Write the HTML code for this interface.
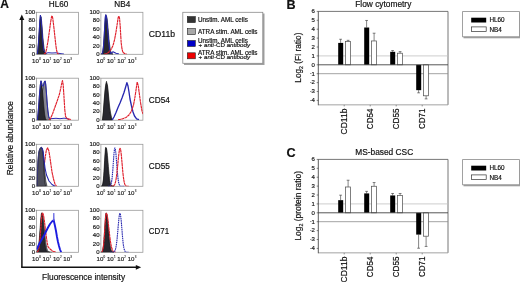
<!DOCTYPE html>
<html><head><meta charset="utf-8"><style>
html,body{margin:0;padding:0;background:#fff;}
body{width:520px;height:282px;overflow:hidden;}
svg{display:block;will-change:transform;font-family:"Liberation Sans", sans-serif;}
text{stroke:#111;stroke-width:0.18px;}
</style></head><body>
<div class="wrap"><svg width="520" height="282" viewBox="0 0 520 282" fill="#111">
<defs><clipPath id="c36_12"><rect x="36.5" y="12.3" width="42.0" height="42.0"/></clipPath><clipPath id="c100_12"><rect x="100.9" y="12.3" width="42.0" height="42.0"/></clipPath><clipPath id="c36_78"><rect x="36.5" y="78.2" width="42.0" height="42.0"/></clipPath><clipPath id="c100_78"><rect x="100.9" y="78.2" width="42.0" height="42.0"/></clipPath><clipPath id="c36_144"><rect x="36.5" y="144.3" width="42.0" height="42.0"/></clipPath><clipPath id="c100_144"><rect x="100.9" y="144.3" width="42.0" height="42.0"/></clipPath><clipPath id="c36_210"><rect x="36.5" y="210.3" width="42.0" height="42.0"/></clipPath><clipPath id="c100_210"><rect x="100.9" y="210.3" width="42.0" height="42.0"/></clipPath></defs>
<rect width="520" height="282" fill="#fff"/>
<rect x="36.5" y="12.3" width="42.0" height="42.0" fill="none" stroke="#9a9a9a" stroke-width="0.8"/>
<text x="35.1" y="13.90" font-size="6" text-anchor="end" fill="#222" stroke-width="0.1">100</text>
<line x1="35.3" y1="12.30" x2="36.5" y2="12.30" stroke="#888" stroke-width="0.5"/>
<text x="35.1" y="22.30" font-size="6" text-anchor="end" fill="#222" stroke-width="0.1">80</text>
<line x1="35.3" y1="20.70" x2="36.5" y2="20.70" stroke="#888" stroke-width="0.5"/>
<text x="35.1" y="30.70" font-size="6" text-anchor="end" fill="#222" stroke-width="0.1">60</text>
<line x1="35.3" y1="29.10" x2="36.5" y2="29.10" stroke="#888" stroke-width="0.5"/>
<text x="35.1" y="39.10" font-size="6" text-anchor="end" fill="#222" stroke-width="0.1">40</text>
<line x1="35.3" y1="37.50" x2="36.5" y2="37.50" stroke="#888" stroke-width="0.5"/>
<text x="35.1" y="47.50" font-size="6" text-anchor="end" fill="#222" stroke-width="0.1">20</text>
<line x1="35.3" y1="45.90" x2="36.5" y2="45.90" stroke="#888" stroke-width="0.5"/>
<text x="35.1" y="55.90" font-size="6" text-anchor="end" fill="#222" stroke-width="0.1">0</text>
<line x1="35.3" y1="54.30" x2="36.5" y2="54.30" stroke="#888" stroke-width="0.5"/>
<text x="32.10" y="62.70" font-size="6.1" fill="#2a2a2a" stroke-width="0.06">10<tspan font-size="3.0" dx="0.25" dy="-2.6" stroke-width="0.1">0</tspan></text>
<text x="42.50" y="62.70" font-size="6.1" fill="#2a2a2a" stroke-width="0.06">10<tspan font-size="3.0" dx="0.25" dy="-2.6" stroke-width="0.1">1</tspan></text>
<text x="52.90" y="62.70" font-size="6.1" fill="#2a2a2a" stroke-width="0.06">10<tspan font-size="3.0" dx="0.25" dy="-2.6" stroke-width="0.1">2</tspan></text>
<text x="63.30" y="62.70" font-size="6.1" fill="#2a2a2a" stroke-width="0.06">10<tspan font-size="3.0" dx="0.25" dy="-2.6" stroke-width="0.1">3</tspan></text>
<rect x="100.9" y="12.3" width="42.0" height="42.0" fill="none" stroke="#9a9a9a" stroke-width="0.8"/>
<text x="99.5" y="13.90" font-size="6" text-anchor="end" fill="#222" stroke-width="0.1">100</text>
<line x1="99.7" y1="12.30" x2="100.9" y2="12.30" stroke="#888" stroke-width="0.5"/>
<text x="99.5" y="22.30" font-size="6" text-anchor="end" fill="#222" stroke-width="0.1">80</text>
<line x1="99.7" y1="20.70" x2="100.9" y2="20.70" stroke="#888" stroke-width="0.5"/>
<text x="99.5" y="30.70" font-size="6" text-anchor="end" fill="#222" stroke-width="0.1">60</text>
<line x1="99.7" y1="29.10" x2="100.9" y2="29.10" stroke="#888" stroke-width="0.5"/>
<text x="99.5" y="39.10" font-size="6" text-anchor="end" fill="#222" stroke-width="0.1">40</text>
<line x1="99.7" y1="37.50" x2="100.9" y2="37.50" stroke="#888" stroke-width="0.5"/>
<text x="99.5" y="47.50" font-size="6" text-anchor="end" fill="#222" stroke-width="0.1">20</text>
<line x1="99.7" y1="45.90" x2="100.9" y2="45.90" stroke="#888" stroke-width="0.5"/>
<text x="99.5" y="55.90" font-size="6" text-anchor="end" fill="#222" stroke-width="0.1">0</text>
<line x1="99.7" y1="54.30" x2="100.9" y2="54.30" stroke="#888" stroke-width="0.5"/>
<text x="96.50" y="62.70" font-size="6.1" fill="#2a2a2a" stroke-width="0.06">10<tspan font-size="3.0" dx="0.25" dy="-2.6" stroke-width="0.1">0</tspan></text>
<text x="106.90" y="62.70" font-size="6.1" fill="#2a2a2a" stroke-width="0.06">10<tspan font-size="3.0" dx="0.25" dy="-2.6" stroke-width="0.1">1</tspan></text>
<text x="117.30" y="62.70" font-size="6.1" fill="#2a2a2a" stroke-width="0.06">10<tspan font-size="3.0" dx="0.25" dy="-2.6" stroke-width="0.1">2</tspan></text>
<text x="127.70" y="62.70" font-size="6.1" fill="#2a2a2a" stroke-width="0.06">10<tspan font-size="3.0" dx="0.25" dy="-2.6" stroke-width="0.1">3</tspan></text>
<rect x="36.5" y="78.2" width="42.0" height="42.0" fill="none" stroke="#9a9a9a" stroke-width="0.8"/>
<text x="35.1" y="79.80" font-size="6" text-anchor="end" fill="#222" stroke-width="0.1">100</text>
<line x1="35.3" y1="78.20" x2="36.5" y2="78.20" stroke="#888" stroke-width="0.5"/>
<text x="35.1" y="88.20" font-size="6" text-anchor="end" fill="#222" stroke-width="0.1">80</text>
<line x1="35.3" y1="86.60" x2="36.5" y2="86.60" stroke="#888" stroke-width="0.5"/>
<text x="35.1" y="96.60" font-size="6" text-anchor="end" fill="#222" stroke-width="0.1">60</text>
<line x1="35.3" y1="95.00" x2="36.5" y2="95.00" stroke="#888" stroke-width="0.5"/>
<text x="35.1" y="105.00" font-size="6" text-anchor="end" fill="#222" stroke-width="0.1">40</text>
<line x1="35.3" y1="103.40" x2="36.5" y2="103.40" stroke="#888" stroke-width="0.5"/>
<text x="35.1" y="113.40" font-size="6" text-anchor="end" fill="#222" stroke-width="0.1">20</text>
<line x1="35.3" y1="111.80" x2="36.5" y2="111.80" stroke="#888" stroke-width="0.5"/>
<text x="35.1" y="121.80" font-size="6" text-anchor="end" fill="#222" stroke-width="0.1">0</text>
<line x1="35.3" y1="120.20" x2="36.5" y2="120.20" stroke="#888" stroke-width="0.5"/>
<text x="32.10" y="128.60" font-size="6.1" fill="#2a2a2a" stroke-width="0.06">10<tspan font-size="3.0" dx="0.25" dy="-2.6" stroke-width="0.1">0</tspan></text>
<text x="42.50" y="128.60" font-size="6.1" fill="#2a2a2a" stroke-width="0.06">10<tspan font-size="3.0" dx="0.25" dy="-2.6" stroke-width="0.1">1</tspan></text>
<text x="52.90" y="128.60" font-size="6.1" fill="#2a2a2a" stroke-width="0.06">10<tspan font-size="3.0" dx="0.25" dy="-2.6" stroke-width="0.1">2</tspan></text>
<text x="63.30" y="128.60" font-size="6.1" fill="#2a2a2a" stroke-width="0.06">10<tspan font-size="3.0" dx="0.25" dy="-2.6" stroke-width="0.1">3</tspan></text>
<rect x="100.9" y="78.2" width="42.0" height="42.0" fill="none" stroke="#9a9a9a" stroke-width="0.8"/>
<text x="99.5" y="79.80" font-size="6" text-anchor="end" fill="#222" stroke-width="0.1">100</text>
<line x1="99.7" y1="78.20" x2="100.9" y2="78.20" stroke="#888" stroke-width="0.5"/>
<text x="99.5" y="88.20" font-size="6" text-anchor="end" fill="#222" stroke-width="0.1">80</text>
<line x1="99.7" y1="86.60" x2="100.9" y2="86.60" stroke="#888" stroke-width="0.5"/>
<text x="99.5" y="96.60" font-size="6" text-anchor="end" fill="#222" stroke-width="0.1">60</text>
<line x1="99.7" y1="95.00" x2="100.9" y2="95.00" stroke="#888" stroke-width="0.5"/>
<text x="99.5" y="105.00" font-size="6" text-anchor="end" fill="#222" stroke-width="0.1">40</text>
<line x1="99.7" y1="103.40" x2="100.9" y2="103.40" stroke="#888" stroke-width="0.5"/>
<text x="99.5" y="113.40" font-size="6" text-anchor="end" fill="#222" stroke-width="0.1">20</text>
<line x1="99.7" y1="111.80" x2="100.9" y2="111.80" stroke="#888" stroke-width="0.5"/>
<text x="99.5" y="121.80" font-size="6" text-anchor="end" fill="#222" stroke-width="0.1">0</text>
<line x1="99.7" y1="120.20" x2="100.9" y2="120.20" stroke="#888" stroke-width="0.5"/>
<text x="96.50" y="128.60" font-size="6.1" fill="#2a2a2a" stroke-width="0.06">10<tspan font-size="3.0" dx="0.25" dy="-2.6" stroke-width="0.1">0</tspan></text>
<text x="106.90" y="128.60" font-size="6.1" fill="#2a2a2a" stroke-width="0.06">10<tspan font-size="3.0" dx="0.25" dy="-2.6" stroke-width="0.1">1</tspan></text>
<text x="117.30" y="128.60" font-size="6.1" fill="#2a2a2a" stroke-width="0.06">10<tspan font-size="3.0" dx="0.25" dy="-2.6" stroke-width="0.1">2</tspan></text>
<text x="127.70" y="128.60" font-size="6.1" fill="#2a2a2a" stroke-width="0.06">10<tspan font-size="3.0" dx="0.25" dy="-2.6" stroke-width="0.1">3</tspan></text>
<rect x="36.5" y="144.3" width="42.0" height="42.0" fill="none" stroke="#9a9a9a" stroke-width="0.8"/>
<text x="35.1" y="145.90" font-size="6" text-anchor="end" fill="#222" stroke-width="0.1">100</text>
<line x1="35.3" y1="144.30" x2="36.5" y2="144.30" stroke="#888" stroke-width="0.5"/>
<text x="35.1" y="154.30" font-size="6" text-anchor="end" fill="#222" stroke-width="0.1">80</text>
<line x1="35.3" y1="152.70" x2="36.5" y2="152.70" stroke="#888" stroke-width="0.5"/>
<text x="35.1" y="162.70" font-size="6" text-anchor="end" fill="#222" stroke-width="0.1">60</text>
<line x1="35.3" y1="161.10" x2="36.5" y2="161.10" stroke="#888" stroke-width="0.5"/>
<text x="35.1" y="171.10" font-size="6" text-anchor="end" fill="#222" stroke-width="0.1">40</text>
<line x1="35.3" y1="169.50" x2="36.5" y2="169.50" stroke="#888" stroke-width="0.5"/>
<text x="35.1" y="179.50" font-size="6" text-anchor="end" fill="#222" stroke-width="0.1">20</text>
<line x1="35.3" y1="177.90" x2="36.5" y2="177.90" stroke="#888" stroke-width="0.5"/>
<text x="35.1" y="187.90" font-size="6" text-anchor="end" fill="#222" stroke-width="0.1">0</text>
<line x1="35.3" y1="186.30" x2="36.5" y2="186.30" stroke="#888" stroke-width="0.5"/>
<text x="32.10" y="194.70" font-size="6.1" fill="#2a2a2a" stroke-width="0.06">10<tspan font-size="3.0" dx="0.25" dy="-2.6" stroke-width="0.1">0</tspan></text>
<text x="42.50" y="194.70" font-size="6.1" fill="#2a2a2a" stroke-width="0.06">10<tspan font-size="3.0" dx="0.25" dy="-2.6" stroke-width="0.1">1</tspan></text>
<text x="52.90" y="194.70" font-size="6.1" fill="#2a2a2a" stroke-width="0.06">10<tspan font-size="3.0" dx="0.25" dy="-2.6" stroke-width="0.1">2</tspan></text>
<text x="63.30" y="194.70" font-size="6.1" fill="#2a2a2a" stroke-width="0.06">10<tspan font-size="3.0" dx="0.25" dy="-2.6" stroke-width="0.1">3</tspan></text>
<rect x="100.9" y="144.3" width="42.0" height="42.0" fill="none" stroke="#9a9a9a" stroke-width="0.8"/>
<text x="99.5" y="145.90" font-size="6" text-anchor="end" fill="#222" stroke-width="0.1">100</text>
<line x1="99.7" y1="144.30" x2="100.9" y2="144.30" stroke="#888" stroke-width="0.5"/>
<text x="99.5" y="154.30" font-size="6" text-anchor="end" fill="#222" stroke-width="0.1">80</text>
<line x1="99.7" y1="152.70" x2="100.9" y2="152.70" stroke="#888" stroke-width="0.5"/>
<text x="99.5" y="162.70" font-size="6" text-anchor="end" fill="#222" stroke-width="0.1">60</text>
<line x1="99.7" y1="161.10" x2="100.9" y2="161.10" stroke="#888" stroke-width="0.5"/>
<text x="99.5" y="171.10" font-size="6" text-anchor="end" fill="#222" stroke-width="0.1">40</text>
<line x1="99.7" y1="169.50" x2="100.9" y2="169.50" stroke="#888" stroke-width="0.5"/>
<text x="99.5" y="179.50" font-size="6" text-anchor="end" fill="#222" stroke-width="0.1">20</text>
<line x1="99.7" y1="177.90" x2="100.9" y2="177.90" stroke="#888" stroke-width="0.5"/>
<text x="99.5" y="187.90" font-size="6" text-anchor="end" fill="#222" stroke-width="0.1">0</text>
<line x1="99.7" y1="186.30" x2="100.9" y2="186.30" stroke="#888" stroke-width="0.5"/>
<text x="96.50" y="194.70" font-size="6.1" fill="#2a2a2a" stroke-width="0.06">10<tspan font-size="3.0" dx="0.25" dy="-2.6" stroke-width="0.1">0</tspan></text>
<text x="106.90" y="194.70" font-size="6.1" fill="#2a2a2a" stroke-width="0.06">10<tspan font-size="3.0" dx="0.25" dy="-2.6" stroke-width="0.1">1</tspan></text>
<text x="117.30" y="194.70" font-size="6.1" fill="#2a2a2a" stroke-width="0.06">10<tspan font-size="3.0" dx="0.25" dy="-2.6" stroke-width="0.1">2</tspan></text>
<text x="127.70" y="194.70" font-size="6.1" fill="#2a2a2a" stroke-width="0.06">10<tspan font-size="3.0" dx="0.25" dy="-2.6" stroke-width="0.1">3</tspan></text>
<rect x="36.5" y="210.3" width="42.0" height="42.0" fill="none" stroke="#9a9a9a" stroke-width="0.8"/>
<text x="35.1" y="211.90" font-size="6" text-anchor="end" fill="#222" stroke-width="0.1">100</text>
<line x1="35.3" y1="210.30" x2="36.5" y2="210.30" stroke="#888" stroke-width="0.5"/>
<text x="35.1" y="220.30" font-size="6" text-anchor="end" fill="#222" stroke-width="0.1">80</text>
<line x1="35.3" y1="218.70" x2="36.5" y2="218.70" stroke="#888" stroke-width="0.5"/>
<text x="35.1" y="228.70" font-size="6" text-anchor="end" fill="#222" stroke-width="0.1">60</text>
<line x1="35.3" y1="227.10" x2="36.5" y2="227.10" stroke="#888" stroke-width="0.5"/>
<text x="35.1" y="237.10" font-size="6" text-anchor="end" fill="#222" stroke-width="0.1">40</text>
<line x1="35.3" y1="235.50" x2="36.5" y2="235.50" stroke="#888" stroke-width="0.5"/>
<text x="35.1" y="245.50" font-size="6" text-anchor="end" fill="#222" stroke-width="0.1">20</text>
<line x1="35.3" y1="243.90" x2="36.5" y2="243.90" stroke="#888" stroke-width="0.5"/>
<text x="35.1" y="253.90" font-size="6" text-anchor="end" fill="#222" stroke-width="0.1">0</text>
<line x1="35.3" y1="252.30" x2="36.5" y2="252.30" stroke="#888" stroke-width="0.5"/>
<text x="32.10" y="260.70" font-size="6.1" fill="#2a2a2a" stroke-width="0.06">10<tspan font-size="3.0" dx="0.25" dy="-2.6" stroke-width="0.1">0</tspan></text>
<text x="42.50" y="260.70" font-size="6.1" fill="#2a2a2a" stroke-width="0.06">10<tspan font-size="3.0" dx="0.25" dy="-2.6" stroke-width="0.1">1</tspan></text>
<text x="52.90" y="260.70" font-size="6.1" fill="#2a2a2a" stroke-width="0.06">10<tspan font-size="3.0" dx="0.25" dy="-2.6" stroke-width="0.1">2</tspan></text>
<text x="63.30" y="260.70" font-size="6.1" fill="#2a2a2a" stroke-width="0.06">10<tspan font-size="3.0" dx="0.25" dy="-2.6" stroke-width="0.1">3</tspan></text>
<rect x="100.9" y="210.3" width="42.0" height="42.0" fill="none" stroke="#9a9a9a" stroke-width="0.8"/>
<text x="99.5" y="211.90" font-size="6" text-anchor="end" fill="#222" stroke-width="0.1">100</text>
<line x1="99.7" y1="210.30" x2="100.9" y2="210.30" stroke="#888" stroke-width="0.5"/>
<text x="99.5" y="220.30" font-size="6" text-anchor="end" fill="#222" stroke-width="0.1">80</text>
<line x1="99.7" y1="218.70" x2="100.9" y2="218.70" stroke="#888" stroke-width="0.5"/>
<text x="99.5" y="228.70" font-size="6" text-anchor="end" fill="#222" stroke-width="0.1">60</text>
<line x1="99.7" y1="227.10" x2="100.9" y2="227.10" stroke="#888" stroke-width="0.5"/>
<text x="99.5" y="237.10" font-size="6" text-anchor="end" fill="#222" stroke-width="0.1">40</text>
<line x1="99.7" y1="235.50" x2="100.9" y2="235.50" stroke="#888" stroke-width="0.5"/>
<text x="99.5" y="245.50" font-size="6" text-anchor="end" fill="#222" stroke-width="0.1">20</text>
<line x1="99.7" y1="243.90" x2="100.9" y2="243.90" stroke="#888" stroke-width="0.5"/>
<text x="99.5" y="253.90" font-size="6" text-anchor="end" fill="#222" stroke-width="0.1">0</text>
<line x1="99.7" y1="252.30" x2="100.9" y2="252.30" stroke="#888" stroke-width="0.5"/>
<text x="96.50" y="260.70" font-size="6.1" fill="#2a2a2a" stroke-width="0.06">10<tspan font-size="3.0" dx="0.25" dy="-2.6" stroke-width="0.1">0</tspan></text>
<text x="106.90" y="260.70" font-size="6.1" fill="#2a2a2a" stroke-width="0.06">10<tspan font-size="3.0" dx="0.25" dy="-2.6" stroke-width="0.1">1</tspan></text>
<text x="117.30" y="260.70" font-size="6.1" fill="#2a2a2a" stroke-width="0.06">10<tspan font-size="3.0" dx="0.25" dy="-2.6" stroke-width="0.1">2</tspan></text>
<text x="127.70" y="260.70" font-size="6.1" fill="#2a2a2a" stroke-width="0.06">10<tspan font-size="3.0" dx="0.25" dy="-2.6" stroke-width="0.1">3</tspan></text>
<g clip-path="url(#c36_12)">
<path d="M37.20,54.30 L38.00,50.00 L38.90,40.00 L39.70,29.00 L40.40,19.00 L40.90,17.00 L41.60,21.00 L42.40,31.00 L43.20,41.00 L44.20,49.00 L45.30,53.00 L46.50,54.30 L46.50,54.30 L37.20,54.30 Z" fill="#858590" stroke="#111" stroke-width="0.6" fill-opacity="1"/>
<path d="M37.20,54.30 L37.90,50.00 L38.60,41.00 L39.30,30.00 L39.90,20.00 L40.40,15.20 L40.90,17.00 L41.50,24.00 L42.20,34.00 L43.00,44.00 L43.80,50.50 L44.80,53.60 L46.00,54.30 L46.00,54.30 L37.20,54.30 Z" fill="#28282f" stroke="#111" stroke-width="0.6" fill-opacity="1"/>
<path d="M37.20,54.30 L37.90,50.00 L38.60,41.00 L39.30,30.00 L39.90,20.00 L40.40,15.20 L40.90,17.00 L41.50,24.00 L42.20,34.00 L43.00,44.00 L43.80,50.50 L46.00,53.40 L48.00,52.70 L52.00,53.00 L56.00,52.80 L61.00,53.70 L64.00,54.10" fill="none" stroke="#2828b0" stroke-width="1.0" stroke-linejoin="round" opacity="1"/>
<path d="M44.00,54.30 L45.60,53.00 L46.80,48.00 L48.00,41.00 L49.30,32.00 L50.50,23.00 L51.40,17.50 L52.00,15.80 L52.70,18.00 L53.60,25.00 L54.60,34.00 L55.60,43.00 L56.50,50.00 L57.50,53.40 L59.00,54.30" fill="none" stroke="#e0202c" stroke-width="1.15" stroke-dasharray="3,0.35" stroke-linejoin="round" opacity="1"/>
</g>
<g clip-path="url(#c100_12)">
<path d="M101.50,54.07 L101.79,53.89 L102.08,53.57 L102.36,53.08 L102.65,52.32 L102.94,51.20 L103.22,49.62 L103.51,47.49 L103.80,44.75 L104.09,41.39 L104.38,37.49 L104.66,33.19 L104.95,28.75 L105.24,24.50 L105.53,20.79 L105.81,17.97 L106.10,16.34 L106.39,16.04 L106.67,16.67 L106.96,18.04 L107.25,20.09 L107.54,22.67 L107.83,25.66 L108.11,28.90 L108.40,32.23 L108.69,35.52 L108.97,38.64 L109.26,41.51 L109.55,44.07 L109.84,46.29 L110.12,48.15 L110.41,49.68 L110.70,50.89 L110.99,51.84 L111.28,52.56 L111.56,53.10 L111.85,53.49 L112.14,53.76 L112.42,53.95 L112.71,54.08 L113.00,54.16 L113.00,54.30 L101.50,54.30 Z" fill="#858590" stroke="#111" stroke-width="0.6" fill-opacity="1"/>
<path d="M101.50,54.13 L101.79,53.96 L102.08,53.65 L102.36,53.10 L102.65,52.20 L102.94,50.80 L103.22,48.75 L103.51,45.90 L103.80,42.20 L104.09,37.71 L104.38,32.64 L104.66,27.36 L104.95,22.40 L105.24,18.33 L105.53,15.67 L105.81,14.80 L106.10,15.29 L106.39,16.64 L106.67,18.77 L106.96,21.54 L107.25,24.78 L107.54,28.30 L107.83,31.92 L108.11,35.47 L108.40,38.81 L108.69,41.85 L108.97,44.52 L109.26,46.79 L109.55,48.67 L109.84,50.17 L110.12,51.34 L110.41,52.23 L110.70,52.88 L110.99,53.35 L111.28,53.68 L111.56,53.90 L111.85,54.05 L112.14,54.15 L112.42,54.21 L112.71,54.25 L113.00,54.27 L113.00,54.30 L101.50,54.30 Z" fill="#28282f" stroke="#111" stroke-width="0.6" fill-opacity="1"/>
<path d="M101.50,54.13 L101.74,54.00 L101.97,53.78 L102.21,53.42 L102.45,52.87 L102.69,52.05 L102.92,50.88 L103.16,49.26 L103.40,47.11 L103.64,44.40 L103.88,41.10 L104.11,37.29 L104.35,33.09 L104.59,28.73 L104.83,24.48 L105.06,20.67 L105.30,17.62 L105.54,15.60 L105.78,14.81 L106.01,15.05 L106.25,15.89 L106.49,17.30 L106.72,19.21 L106.96,21.54 L107.20,24.19 L107.44,27.05 L107.67,30.03 L107.91,33.01 L108.15,35.92 L108.39,38.67 L108.62,41.22 L108.86,43.52 L109.10,45.56 L109.34,47.32 L109.58,48.81 L109.81,50.05 L110.05,51.06 L110.29,51.87 L110.53,52.51 L110.76,53.00 L111.00,53.37 L113.00,51.80 L116.00,53.30 L119.00,54.00" fill="none" stroke="#2828b0" stroke-width="1.1" stroke-linejoin="round" opacity="1"/>
<path d="M104.00,54.30 L107.00,53.50 L109.00,52.00 L111.00,49.50 L113.00,45.50 L114.50,40.00 L116.00,32.00 L117.20,24.00 L118.20,17.50 L118.80,16.00 L119.50,18.00 L120.20,26.00 L120.70,35.00 L121.20,43.00 L122.00,49.00 L123.00,52.50 L125.00,53.80 L127.00,54.30" fill="none" stroke="#e0202c" stroke-width="1.15" stroke-dasharray="3,0.35" stroke-linejoin="round" opacity="1"/>
</g>
<g clip-path="url(#c36_78)">
<path d="M38.00,120.20 L39.50,112.00 L41.00,102.00 L42.20,93.00 L43.00,87.50 L43.80,83.50 L44.50,81.30 L45.10,80.90 L45.70,84.00 L46.30,91.00 L47.00,101.00 L47.80,110.00 L48.70,116.50 L49.80,119.50 L51.00,120.20 L51.00,120.20 L38.00,120.20 Z" fill="#858590" stroke="#111" stroke-width="0.6" fill-opacity="1"/>
<path d="M37.30,120.20 L38.00,114.00 L38.80,104.00 L39.60,93.00 L40.30,85.00 L41.00,80.80 L41.60,83.00 L42.30,89.00 L43.00,97.00 L43.80,106.00 L44.60,114.00 L45.50,119.00 L46.50,120.20 L46.50,120.20 L37.30,120.20 Z" fill="#28282f" stroke="#111" stroke-width="0.6" fill-opacity="1"/>
<path d="M37.30,120.20 L38.00,114.00 L38.80,104.00 L39.60,93.00 L40.30,85.00 L41.00,80.80 L41.70,83.00 L42.40,86.00 L43.00,86.40 L43.60,85.00 L44.30,82.00 L45.10,80.90 L45.70,84.00 L46.30,91.00 L47.00,101.00 L47.80,110.00 L48.70,116.50 L49.80,118.80 L52.00,118.60 L56.00,118.30 L60.00,118.70 L64.00,118.20 L67.00,118.50 L69.00,119.50" fill="none" stroke="#2828b0" stroke-width="1.0" stroke-linejoin="round" opacity="1"/>
<path d="M49.00,119.80 L50.50,118.50 L52.50,114.00 L55.00,107.00 L57.50,100.00 L59.50,94.00 L60.80,88.00 L61.80,83.00 L62.50,80.60 L63.20,85.00 L64.00,97.00 L64.80,110.00 L65.60,116.50 L67.00,118.60 L71.00,119.60" fill="none" stroke="#e0202c" stroke-width="1.15" stroke-dasharray="3,0.35" stroke-linejoin="round" opacity="1"/>
</g>
<g clip-path="url(#c100_78)">
<path d="M102.50,120.20 L103.50,112.00 L104.60,98.00 L105.60,88.00 L106.60,83.00 L107.60,86.00 L108.60,96.00 L109.60,106.00 L110.60,113.00 L111.60,117.50 L113.00,120.20 L113.00,120.20 L102.50,120.20 Z" fill="#858590" stroke="#111" stroke-width="0.6" fill-opacity="1"/>
<path d="M102.50,120.20 L103.30,112.00 L104.20,100.00 L105.00,90.00 L105.80,84.00 L106.50,81.30 L107.20,85.00 L108.00,93.00 L108.80,103.00 L109.70,111.00 L110.70,116.50 L112.00,120.20 L112.00,120.20 L102.50,120.20 Z" fill="#28282f" stroke="#111" stroke-width="0.6" fill-opacity="1"/>
<path d="M112.20,120.00 L114.00,117.00 L116.00,112.50 L118.00,107.50 L120.00,103.00 L122.00,98.00 L124.00,92.50 L125.50,87.50 L126.90,82.60 L128.00,86.00 L129.00,92.00 L130.00,99.00 L131.50,106.00 L133.00,112.00 L134.50,116.00 L136.60,118.80 L139.00,119.60" fill="none" stroke="#2828b0" stroke-width="1.35" stroke-linejoin="round" opacity="1"/>
<path d="M118.00,119.80 L122.00,119.00 L126.00,117.50 L129.00,115.00 L131.50,111.00 L133.50,105.00 L135.00,97.00 L136.30,88.00 L137.20,82.00 L138.30,86.00 L139.50,95.00 L140.60,103.00 L142.00,111.00 L143.00,114.00" fill="none" stroke="#e0202c" stroke-width="1.15" stroke-dasharray="3,0.35" stroke-linejoin="round" opacity="1"/>
</g>
<g clip-path="url(#c36_144)">
<path d="M41.00,186.30 L42.50,180.00 L43.50,172.00 L44.50,163.00 L45.40,156.00 L46.40,150.00 L47.70,147.90 L48.90,151.00 L50.00,158.00 L51.00,165.00 L52.00,172.00 L53.50,179.00 L55.00,184.00 L56.50,186.30" fill="none" stroke="#e0202c" stroke-width="1.15" stroke-dasharray="3,0.35" stroke-linejoin="round" opacity="1"/>
<path d="M37.00,186.30 L37.50,175.00 L38.20,162.00 L39.00,153.00 L40.00,149.50 L41.20,147.60 L42.30,148.50 L43.20,153.00 L44.00,162.00 L44.80,172.00 L45.80,181.00 L47.00,186.30 L47.00,186.30 L37.00,186.30 Z" fill="#858590" stroke="#111" stroke-width="0.6" fill-opacity="1"/>
<path d="M37.00,186.30 L37.40,172.00 L38.00,160.00 L38.80,152.00 L39.80,148.50 L41.30,147.30 L42.40,149.00 L43.10,155.00 L43.70,164.00 L44.20,174.00 L44.80,182.00 L45.60,186.30 L45.60,186.30 L37.00,186.30 Z" fill="#40404e" stroke="#111" stroke-width="0.6" fill-opacity="0.8"/>
<path d="M37.00,186.30 L37.40,172.00 L38.00,160.00 L38.80,152.00 L39.80,148.50 L41.30,147.30" fill="none" stroke="#3a3a90" stroke-width="0.8" stroke-linejoin="round" opacity="1"/>
<path d="M41.30,147.30 L42.40,148.50 L43.20,152.00 L44.00,160.00 L45.00,168.00 L46.50,175.00 L49.00,181.00 L52.00,184.50 L55.00,186.30" fill="none" stroke="#2828b0" stroke-width="1.1" stroke-linejoin="round" opacity="1"/>
</g>
<g clip-path="url(#c100_144)">
<path d="M101.50,186.16 L101.81,186.02 L102.12,185.75 L102.44,185.27 L102.75,184.46 L103.06,183.19 L103.38,181.30 L103.69,178.65 L104.00,175.16 L104.31,170.87 L104.62,165.96 L104.94,160.80 L105.25,155.88 L105.56,151.77 L105.88,149.02 L106.19,148.00 L106.50,148.47 L106.81,149.94 L107.12,152.28 L107.44,155.32 L107.75,158.84 L108.06,162.61 L108.38,166.41 L108.69,170.04 L109.00,173.37 L109.31,176.29 L109.62,178.76 L109.94,180.77 L110.25,182.35 L110.56,183.56 L110.88,184.44 L111.19,185.08 L111.50,185.52 L111.81,185.81 L112.12,186.00 L112.44,186.13 L112.75,186.20 L113.06,186.24 L113.38,186.27 L113.69,186.28 L114.00,186.29 L114.00,186.30 L101.50,186.30 Z" fill="#858590" stroke="#111" stroke-width="0.6" fill-opacity="1"/>
<path d="M101.50,186.13 L101.81,185.94 L102.12,185.58 L102.44,184.92 L102.75,183.80 L103.06,182.03 L103.38,179.42 L103.69,175.83 L104.00,171.27 L104.31,165.93 L104.62,160.25 L104.94,154.84 L105.25,150.46 L105.56,147.75 L105.88,147.13 L106.19,148.00 L106.50,149.95 L106.81,152.84 L107.12,156.40 L107.44,160.38 L107.75,164.50 L108.06,168.51 L108.38,172.21 L108.69,175.47 L109.00,178.23 L109.31,180.46 L109.62,182.20 L109.94,183.51 L110.25,184.45 L110.56,185.12 L110.88,185.56 L111.19,185.86 L111.50,186.04 L111.81,186.15 L112.12,186.22 L112.44,186.26 L112.75,186.28 L113.06,186.29 L113.38,186.29 L113.69,186.30 L114.00,186.30 L114.00,186.30 L101.50,186.30 Z" fill="#28282f" stroke="#111" stroke-width="0.6" fill-opacity="1"/>
<path d="M108.00,186.30 L108.40,186.29 L108.80,186.27 L109.20,186.23 L109.60,186.14 L110.00,185.95 L110.40,185.56 L110.80,184.86 L111.20,183.65 L111.60,181.72 L112.00,178.87 L112.40,174.97 L112.80,170.07 L113.20,164.46 L113.60,158.70 L114.00,153.52 L114.40,149.73 L114.80,147.97 L115.20,148.46 L115.60,150.85 L116.00,154.78 L116.40,159.71 L116.80,165.00 L117.20,170.11 L117.60,174.62 L118.00,178.30 L118.40,181.10 L118.80,183.09 L119.20,184.42 L119.60,185.26 L120.00,185.75 L120.40,186.02 L120.80,186.17 L121.20,186.24 L121.60,186.27 L122.00,186.29 L122.40,186.30 L122.80,186.30 L123.20,186.30 L123.60,186.30 L124.00,186.30" fill="none" stroke="#2828b0" stroke-width="1.1" stroke-dasharray="1.6,0.6" stroke-linejoin="round" opacity="1"/>
<path d="M110.00,186.30 L110.47,186.30 L110.95,186.29 L111.42,186.28 L111.90,186.26 L112.38,186.22 L112.85,186.13 L113.33,185.97 L113.80,185.67 L114.28,185.16 L114.75,184.32 L115.22,183.04 L115.70,181.16 L116.17,178.56 L116.65,175.19 L117.12,171.07 L117.60,166.38 L118.08,161.42 L118.55,156.65 L119.03,152.58 L119.50,149.69 L119.97,148.36 L120.45,148.91 L120.92,151.55 L121.40,155.87 L121.88,161.19 L122.35,166.77 L122.83,171.99 L123.30,176.41 L123.78,179.87 L124.25,182.35 L124.72,184.02 L125.20,185.06 L125.67,185.66 L126.15,185.99 L126.62,186.16 L127.10,186.24 L127.58,186.28 L128.05,186.29 L128.53,186.30 L129.00,186.30" fill="none" stroke="#e0202c" stroke-width="1.15" stroke-dasharray="3,0.35" stroke-linejoin="round" opacity="1"/>
</g>
<g clip-path="url(#c36_210)">
<path d="M36.60,252.00 L36.98,251.72 L37.37,251.25 L37.76,250.48 L38.14,249.29 L38.52,247.54 L38.91,245.09 L39.30,241.89 L39.68,237.93 L40.06,233.35 L40.45,228.42 L40.84,223.57 L41.22,219.28 L41.61,216.04 L41.99,214.26 L42.38,214.12 L42.76,215.22 L43.15,217.38 L43.53,220.40 L43.91,224.04 L44.30,228.01 L44.69,232.06 L45.07,235.95 L45.45,239.48 L45.84,242.56 L46.23,245.12 L46.61,247.16 L47.00,248.74 L47.38,249.90 L47.77,250.74 L48.15,251.31 L48.53,251.69 L48.92,251.94 L49.30,252.09 L49.69,252.18 L50.08,252.24 L50.46,252.27 L50.84,252.28 L51.23,252.29 L51.61,252.30 L52.00,252.30 L52.00,252.30 L36.60,252.30 Z" fill="#858590" stroke="#111" stroke-width="0.6" fill-opacity="1"/>
<path d="M36.60,252.05 L36.94,251.83 L37.27,251.45 L37.61,250.81 L37.94,249.80 L38.27,248.30 L38.61,246.18 L38.95,243.33 L39.28,239.72 L39.62,235.40 L39.95,230.58 L40.29,225.58 L40.62,220.85 L40.95,216.86 L41.29,214.08 L41.62,212.84 L41.96,213.17 L42.30,214.69 L42.63,217.26 L42.97,220.65 L43.30,224.59 L43.63,228.78 L43.97,232.95 L44.30,236.87 L44.64,240.37 L44.98,243.36 L45.31,245.80 L45.64,247.72 L45.98,249.18 L46.31,250.23 L46.65,250.97 L46.98,251.47 L47.32,251.80 L47.66,252.01 L47.99,252.14 L48.33,252.21 L48.66,252.25 L49.00,252.28 L49.33,252.29 L49.66,252.29 L50.00,252.30 L50.00,252.30 L36.60,252.30 Z" fill="#28282f" stroke="#111" stroke-width="0.6" fill-opacity="1"/>
<path d="M36.60,252.20 L36.88,252.13 L37.17,252.01 L37.45,251.82 L37.74,251.52 L38.02,251.07 L38.31,250.42 L38.59,249.49 L38.88,248.23 L39.16,246.56 L39.45,244.44 L39.73,241.83 L40.02,238.74 L40.30,235.22 L40.59,231.39 L40.88,227.41 L41.16,223.49 L41.45,219.88 L41.73,216.83 L42.02,214.57 L42.30,213.27 L42.59,213.02 L42.87,213.34 L43.16,214.06 L43.44,215.15 L43.73,216.59 L44.01,218.32 L44.30,220.30 L44.58,222.48 L44.87,224.79 L45.15,227.19 L45.44,229.61 L45.72,232.01 L46.00,234.35 L46.29,236.58 L46.58,238.67 L46.86,240.61 L47.14,242.37 L47.43,243.96 L47.72,245.36 L48.00,246.59 L50.00,249.00 L53.00,251.30 L56.00,252.00" fill="none" stroke="#e0202c" stroke-width="1.15" stroke-dasharray="3,0.35" stroke-linejoin="round" opacity="1"/>
<path d="M37.00,249.50 L38.00,246.50 L40.00,242.50 L42.00,239.00 L44.00,235.50 L46.00,231.50 L48.00,227.50 L50.00,224.00 L52.00,221.50 L53.70,220.20 L55.00,226.00 L56.00,231.00 L57.00,237.00 L58.00,242.00 L59.00,246.00 L60.00,249.50 L61.20,252.30" fill="none" stroke="#1c1ce0" stroke-width="1.9" stroke-linejoin="round" opacity="1"/>
<path d="M53.30,221.00 L53.80,213.10 L54.30,221.00" fill="none" stroke="#5a5ae0" stroke-width="0.8" stroke-linejoin="round" opacity="1"/>
</g>
<g clip-path="url(#c100_210)">
<path d="M101.50,252.15 L101.81,252.01 L102.12,251.75 L102.44,251.32 L102.75,250.61 L103.06,249.51 L103.38,247.90 L103.69,245.66 L104.00,242.70 L104.31,239.01 L104.62,234.67 L104.94,229.92 L105.25,225.09 L105.56,220.63 L105.88,217.00 L106.19,214.63 L106.50,213.80 L106.81,214.27 L107.12,215.63 L107.44,217.81 L107.75,220.63 L108.06,223.93 L108.38,227.49 L108.69,231.13 L109.00,234.67 L109.31,237.98 L109.62,240.94 L109.94,243.51 L110.25,245.66 L110.56,247.41 L110.88,248.78 L111.19,249.83 L111.50,250.61 L111.81,251.17 L112.12,251.56 L112.44,251.83 L112.75,252.01 L113.06,252.12 L113.38,252.20 L113.69,252.24 L114.00,252.27 L114.00,252.30 L101.50,252.30 Z" fill="#858590" stroke="#111" stroke-width="0.6" fill-opacity="1"/>
<path d="M101.50,252.12 L101.81,251.94 L102.12,251.60 L102.44,251.01 L102.75,250.04 L103.06,248.55 L103.38,246.36 L103.69,243.35 L104.00,239.48 L104.31,234.82 L104.62,229.62 L104.94,224.32 L105.25,219.45 L105.56,215.61 L105.88,213.31 L106.19,212.84 L106.50,213.67 L106.81,215.48 L107.12,218.15 L107.44,221.47 L107.75,225.21 L108.06,229.13 L108.38,233.01 L108.69,236.67 L109.00,239.98 L109.31,242.84 L109.62,245.23 L109.94,247.16 L110.25,248.66 L110.56,249.80 L110.88,250.62 L111.19,251.20 L111.50,251.60 L111.81,251.87 L112.12,252.04 L112.44,252.15 L112.75,252.21 L113.06,252.25 L113.38,252.27 L113.69,252.29 L114.00,252.29 L114.00,252.30 L101.50,252.30 Z" fill="#28282f" stroke="#111" stroke-width="0.6" fill-opacity="1"/>
<path d="M101.50,252.07 L101.86,251.81 L102.22,251.32 L102.59,250.47 L102.95,249.07 L103.31,246.92 L103.67,243.84 L104.04,239.76 L104.40,234.77 L104.76,229.18 L105.12,223.53 L105.49,218.54 L105.85,214.92 L106.21,213.27 L106.58,213.42 L106.94,214.36 L107.30,215.99 L107.66,218.22 L108.03,220.92 L108.39,223.97 L108.75,227.22 L109.11,230.52 L109.47,233.75 L109.84,236.80 L110.20,239.61 L110.56,242.10 L110.92,244.26 L111.29,246.09 L111.65,247.59 L112.01,248.80 L112.38,249.75 L112.74,250.48 L113.10,251.02 L113.46,251.42 L113.83,251.71 L114.19,251.91 L114.55,252.05 L114.91,252.14 L115.28,252.20 L115.64,252.24 L116.00,252.26" fill="none" stroke="#e0202c" stroke-width="1.15" stroke-dasharray="3,0.35" stroke-linejoin="round" opacity="1"/>
<path d="M110.00,252.30 L110.47,252.30 L110.95,252.30 L111.42,252.30 L111.90,252.29 L112.38,252.27 L112.85,252.23 L113.33,252.15 L113.80,251.98 L114.28,251.65 L114.75,251.05 L115.22,250.04 L115.70,248.42 L116.17,246.02 L116.65,242.69 L117.12,238.39 L117.60,233.27 L118.08,227.70 L118.55,222.24 L119.03,217.58 L119.50,214.40 L119.97,213.20 L120.45,214.34 L120.92,217.79 L121.40,222.94 L121.88,228.91 L122.35,234.85 L122.83,240.11 L123.30,244.33 L123.78,247.42 L124.25,249.51 L124.72,250.80 L125.20,251.55 L125.67,251.95 L126.15,252.14 L126.62,252.24 L127.10,252.28 L127.58,252.29 L128.05,252.30 L128.53,252.30 L129.00,252.30" fill="none" stroke="#2828b0" stroke-width="1.1" stroke-dasharray="1.6,0.6" stroke-linejoin="round" opacity="1"/>
</g>
<text x="48.74" y="6.9" font-size="8.2">HL60</text>
<text x="114.34" y="6.9" font-size="8.2">NB4</text>
<text x="148.79" y="36.8" font-size="8.2" textLength="26.32" lengthAdjust="spacingAndGlyphs">CD11b</text>
<text x="148.79" y="102.5" font-size="8.2" textLength="21.03" lengthAdjust="spacingAndGlyphs">CD54</text>
<text x="148.79" y="168.5" font-size="8.2" textLength="21.11" lengthAdjust="spacingAndGlyphs">CD55</text>
<text x="148.79" y="234.4" font-size="8.2" textLength="20.30" lengthAdjust="spacingAndGlyphs">CD71</text>
<line x1="21.9" y1="19" x2="21.9" y2="267.2" stroke="#111" stroke-width="1.5"/>
<polygon points="21.8,14.4 19.3,19.9 24.3,19.9" fill="#111"/>
<line x1="21.15" y1="267.2" x2="137" y2="267.2" stroke="#111" stroke-width="1.5"/>
<polygon points="141.2,267.3 135.8,264.9 135.8,269.8" fill="#111"/>
<text transform="translate(13.4,175.2) rotate(-90)" font-size="8.4">Relative abundance</text>
<text x="42.1" y="279.7" font-size="8.35">Fluorescence intensity</text>
<rect x="184" y="13.5" width="80.5" height="51.5" fill="#a0a0a0"/>
<rect x="182.8" y="12.3" width="80" height="51" fill="#fff" stroke="#8a8a8a" stroke-width="0.8"/>
<rect x="187.3" y="16.6" width="8" height="6" fill="#333" stroke="#222" stroke-width="0.6"/>
<rect x="187.3" y="28.6" width="8" height="6" fill="#a8a8a8" stroke="#222" stroke-width="0.6"/>
<rect x="187.3" y="40.5" width="8" height="6" fill="#0000c8" stroke="#222" stroke-width="0.6"/>
<rect x="187.3" y="52.8" width="8" height="6" fill="#ee0000" stroke="#222" stroke-width="0.6"/>
<text x="198" y="21.8" font-size="6.3">Unstim. AML cells</text>
<text x="198" y="33.6" font-size="6.3">ATRA stim. AML cells</text>
<text x="198" y="42.8" font-size="6.3">Unstim. AML cells</text>
<text x="198.6" y="47.0" font-size="6.2">+ <tspan font-style="italic">anti-</tspan>CD <tspan font-style="italic">antibody</tspan></text>
<text x="198" y="54.6" font-size="6.3">ATRA stim. AML cells</text>
<text x="198.6" y="58.9" font-size="6.2">+ <tspan font-style="italic">anti-</tspan>CD <tspan font-style="italic">antibody</tspan></text>
<text x="0.2" y="8.3" font-size="12" font-weight="bold">A</text>
<text x="286.4" y="8.7" font-size="12.6" font-weight="bold">B</text>
<text x="286.5" y="156.8" font-size="12.6" font-weight="bold">C</text>
<text x="355.23" y="7.2" font-size="8.35">Flow cytometry</text>
<polyline points="318.3,11.40 448.0,11.40 448.0,104.85" fill="none" stroke="#666" stroke-width="0.9"/>
<line x1="318.3" y1="55.90" x2="448.0" y2="55.90" stroke="#c0c0c0" stroke-width="0.8"/>
<line x1="318.3" y1="73.70" x2="448.0" y2="73.70" stroke="#8a8a8a" stroke-width="0.8"/>
<line x1="340.60" y1="42.91" x2="340.60" y2="39.26" stroke="#333" stroke-width="0.6"/>
<line x1="339.20" y1="39.26" x2="342.00" y2="39.26" stroke="#333" stroke-width="0.6"/>
<rect x="338.20" y="42.91" width="5" height="21.89" fill="#000"/>
<line x1="348.10" y1="41.48" x2="348.10" y2="40.32" stroke="#333" stroke-width="0.6"/>
<line x1="346.70" y1="40.32" x2="349.50" y2="40.32" stroke="#333" stroke-width="0.6"/>
<rect x="345.50" y="41.48" width="5.1" height="23.32" fill="#fff" stroke="#555" stroke-width="0.75"/>
<line x1="344.20" y1="104.85" x2="344.20" y2="106.35" stroke="#333" stroke-width="0.6"/>
<text transform="translate(346.60,108.55) rotate(-90)" font-size="8.3" text-anchor="end" textLength="25.93" lengthAdjust="spacingAndGlyphs">CD11b</text>
<line x1="366.60" y1="27.51" x2="366.60" y2="20.48" stroke="#333" stroke-width="0.6"/>
<line x1="365.20" y1="20.48" x2="368.00" y2="20.48" stroke="#333" stroke-width="0.6"/>
<rect x="364.20" y="27.51" width="5" height="37.29" fill="#000"/>
<line x1="374.10" y1="40.95" x2="374.10" y2="33.20" stroke="#333" stroke-width="0.6"/>
<line x1="372.70" y1="33.20" x2="375.50" y2="33.20" stroke="#333" stroke-width="0.6"/>
<rect x="371.50" y="40.95" width="5.1" height="23.85" fill="#fff" stroke="#555" stroke-width="0.75"/>
<line x1="370.20" y1="104.85" x2="370.20" y2="106.35" stroke="#333" stroke-width="0.6"/>
<text transform="translate(372.60,108.55) rotate(-90)" font-size="8.3" text-anchor="end" textLength="20.64" lengthAdjust="spacingAndGlyphs">CD54</text>
<line x1="392.60" y1="51.81" x2="392.60" y2="50.56" stroke="#333" stroke-width="0.6"/>
<line x1="391.20" y1="50.56" x2="394.00" y2="50.56" stroke="#333" stroke-width="0.6"/>
<rect x="390.20" y="51.81" width="5" height="12.99" fill="#000"/>
<line x1="400.10" y1="53.23" x2="400.10" y2="51.63" stroke="#333" stroke-width="0.6"/>
<line x1="398.70" y1="51.63" x2="401.50" y2="51.63" stroke="#333" stroke-width="0.6"/>
<rect x="397.50" y="53.23" width="5.1" height="11.57" fill="#fff" stroke="#555" stroke-width="0.75"/>
<line x1="396.20" y1="104.85" x2="396.20" y2="106.35" stroke="#333" stroke-width="0.6"/>
<text transform="translate(398.60,108.55) rotate(-90)" font-size="8.3" text-anchor="end" textLength="20.72" lengthAdjust="spacingAndGlyphs">CD55</text>
<line x1="418.60" y1="90.16" x2="418.60" y2="92.83" stroke="#333" stroke-width="0.6"/>
<line x1="417.20" y1="92.83" x2="420.00" y2="92.83" stroke="#333" stroke-width="0.6"/>
<rect x="416.20" y="64.80" width="5" height="25.36" fill="#000"/>
<line x1="426.10" y1="95.77" x2="426.10" y2="98.89" stroke="#333" stroke-width="0.6"/>
<line x1="424.70" y1="98.89" x2="427.50" y2="98.89" stroke="#333" stroke-width="0.6"/>
<rect x="423.50" y="64.80" width="5.1" height="30.97" fill="#fff" stroke="#555" stroke-width="0.75"/>
<line x1="422.20" y1="104.85" x2="422.20" y2="106.35" stroke="#333" stroke-width="0.6"/>
<text transform="translate(424.60,108.55) rotate(-90)" font-size="8.3" text-anchor="end" textLength="20.41" lengthAdjust="spacingAndGlyphs">CD71</text>
<line x1="318.3" y1="64.80" x2="448.0" y2="64.80" stroke="#444" stroke-width="0.9"/>
<line x1="318.3" y1="104.85" x2="448.0" y2="104.85" stroke="#999" stroke-width="0.9"/>
<line x1="318.3" y1="11.40" x2="318.3" y2="105.25" stroke="#333" stroke-width="0.8"/>
<line x1="316.7" y1="11.40" x2="318.3" y2="11.40" stroke="#333" stroke-width="0.6"/>
<text x="314.90000000000003" y="13.20" font-size="6" text-anchor="end" fill="#222">6</text>
<line x1="316.7" y1="20.30" x2="318.3" y2="20.30" stroke="#333" stroke-width="0.6"/>
<text x="314.90000000000003" y="22.10" font-size="6" text-anchor="end" fill="#222">5</text>
<line x1="316.7" y1="29.20" x2="318.3" y2="29.20" stroke="#333" stroke-width="0.6"/>
<text x="314.90000000000003" y="31.00" font-size="6" text-anchor="end" fill="#222">4</text>
<line x1="316.7" y1="38.10" x2="318.3" y2="38.10" stroke="#333" stroke-width="0.6"/>
<text x="314.90000000000003" y="39.90" font-size="6" text-anchor="end" fill="#222">3</text>
<line x1="316.7" y1="47.00" x2="318.3" y2="47.00" stroke="#333" stroke-width="0.6"/>
<text x="314.90000000000003" y="48.80" font-size="6" text-anchor="end" fill="#222">2</text>
<line x1="316.7" y1="55.90" x2="318.3" y2="55.90" stroke="#333" stroke-width="0.6"/>
<text x="314.90000000000003" y="57.70" font-size="6" text-anchor="end" fill="#222">1</text>
<line x1="316.7" y1="64.80" x2="318.3" y2="64.80" stroke="#333" stroke-width="0.6"/>
<text x="314.90000000000003" y="66.60" font-size="6" text-anchor="end" fill="#222">0</text>
<line x1="316.7" y1="73.70" x2="318.3" y2="73.70" stroke="#333" stroke-width="0.6"/>
<text x="314.90000000000003" y="75.50" font-size="6" text-anchor="end" fill="#222"><tspan font-size="4.6" dy="-0.5">-</tspan><tspan dy="0.5">1</tspan></text>
<line x1="316.7" y1="82.60" x2="318.3" y2="82.60" stroke="#333" stroke-width="0.6"/>
<text x="314.90000000000003" y="84.40" font-size="6" text-anchor="end" fill="#222"><tspan font-size="4.6" dy="-0.5">-</tspan><tspan dy="0.5">2</tspan></text>
<line x1="316.7" y1="91.50" x2="318.3" y2="91.50" stroke="#333" stroke-width="0.6"/>
<text x="314.90000000000003" y="93.30" font-size="6" text-anchor="end" fill="#222"><tspan font-size="4.6" dy="-0.5">-</tspan><tspan dy="0.5">3</tspan></text>
<line x1="316.7" y1="100.40" x2="318.3" y2="100.40" stroke="#333" stroke-width="0.6"/>
<text x="314.90000000000003" y="102.20" font-size="6" text-anchor="end" fill="#222"><tspan font-size="4.6" dy="-0.5">-</tspan><tspan dy="0.5">4</tspan></text>
<text transform="translate(300.9,82.66) rotate(-90)" font-size="8.25">Log<tspan font-size="5.12" dy="1.8">2</tspan><tspan dy="-1.8"> (FI ratio)</tspan></text>
<rect x="463.5" y="12.80" width="57" height="25.5" fill="#a0a0a0"/>
<rect x="462.6" y="11.60" width="57" height="25.2" fill="#fff" stroke="#8a8a8a" stroke-width="0.8"/>
<rect x="471.2" y="17.70" width="15" height="4.8" fill="#000"/>
<rect x="471.4" y="26.90" width="14.8" height="4.5" fill="#fff" stroke="#333" stroke-width="0.7"/>
<text x="489.4" y="22.30" font-size="6.35">HL60</text>
<text x="489.4" y="31.50" font-size="6.35">NB4</text>
<text x="355.23" y="155.2" font-size="8.35">MS-based CSC</text>
<polyline points="318.3,159.40 448.0,159.40 448.0,252.85" fill="none" stroke="#666" stroke-width="0.9"/>
<line x1="318.3" y1="203.90" x2="448.0" y2="203.90" stroke="#c0c0c0" stroke-width="0.8"/>
<line x1="318.3" y1="221.70" x2="448.0" y2="221.70" stroke="#8a8a8a" stroke-width="0.8"/>
<line x1="340.60" y1="200.16" x2="340.60" y2="195.18" stroke="#333" stroke-width="0.6"/>
<line x1="339.20" y1="195.18" x2="342.00" y2="195.18" stroke="#333" stroke-width="0.6"/>
<rect x="338.20" y="200.16" width="5" height="12.64" fill="#000"/>
<line x1="348.10" y1="186.99" x2="348.10" y2="180.23" stroke="#333" stroke-width="0.6"/>
<line x1="346.70" y1="180.23" x2="349.50" y2="180.23" stroke="#333" stroke-width="0.6"/>
<rect x="345.50" y="186.99" width="5.1" height="25.81" fill="#fff" stroke="#555" stroke-width="0.75"/>
<line x1="344.20" y1="252.85" x2="344.20" y2="254.35" stroke="#333" stroke-width="0.6"/>
<text transform="translate(346.60,256.55) rotate(-90)" font-size="8.3" text-anchor="end" textLength="25.93" lengthAdjust="spacingAndGlyphs">CD11b</text>
<line x1="366.60" y1="193.40" x2="366.60" y2="191.35" stroke="#333" stroke-width="0.6"/>
<line x1="365.20" y1="191.35" x2="368.00" y2="191.35" stroke="#333" stroke-width="0.6"/>
<rect x="364.20" y="193.40" width="5" height="19.40" fill="#000"/>
<line x1="374.10" y1="186.28" x2="374.10" y2="182.54" stroke="#333" stroke-width="0.6"/>
<line x1="372.70" y1="182.54" x2="375.50" y2="182.54" stroke="#333" stroke-width="0.6"/>
<rect x="371.50" y="186.28" width="5.1" height="26.52" fill="#fff" stroke="#555" stroke-width="0.75"/>
<line x1="370.20" y1="252.85" x2="370.20" y2="254.35" stroke="#333" stroke-width="0.6"/>
<text transform="translate(372.60,256.55) rotate(-90)" font-size="8.3" text-anchor="end" textLength="20.64" lengthAdjust="spacingAndGlyphs">CD54</text>
<line x1="392.60" y1="195.45" x2="392.60" y2="193.49" stroke="#333" stroke-width="0.6"/>
<line x1="391.20" y1="193.49" x2="394.00" y2="193.49" stroke="#333" stroke-width="0.6"/>
<rect x="390.20" y="195.45" width="5" height="17.35" fill="#000"/>
<line x1="400.10" y1="195.45" x2="400.10" y2="193.49" stroke="#333" stroke-width="0.6"/>
<line x1="398.70" y1="193.49" x2="401.50" y2="193.49" stroke="#333" stroke-width="0.6"/>
<rect x="397.50" y="195.45" width="5.1" height="17.35" fill="#fff" stroke="#555" stroke-width="0.75"/>
<line x1="396.20" y1="252.85" x2="396.20" y2="254.35" stroke="#333" stroke-width="0.6"/>
<text transform="translate(398.60,256.55) rotate(-90)" font-size="8.3" text-anchor="end" textLength="20.72" lengthAdjust="spacingAndGlyphs">CD55</text>
<line x1="418.60" y1="234.61" x2="418.60" y2="248.22" stroke="#333" stroke-width="0.6"/>
<line x1="417.20" y1="248.22" x2="420.00" y2="248.22" stroke="#333" stroke-width="0.6"/>
<rect x="416.20" y="212.80" width="5" height="21.81" fill="#000"/>
<line x1="426.10" y1="236.21" x2="426.10" y2="246.44" stroke="#333" stroke-width="0.6"/>
<line x1="424.70" y1="246.44" x2="427.50" y2="246.44" stroke="#333" stroke-width="0.6"/>
<rect x="423.50" y="212.80" width="5.1" height="23.41" fill="#fff" stroke="#555" stroke-width="0.75"/>
<line x1="422.20" y1="252.85" x2="422.20" y2="254.35" stroke="#333" stroke-width="0.6"/>
<text transform="translate(424.60,256.55) rotate(-90)" font-size="8.3" text-anchor="end" textLength="20.41" lengthAdjust="spacingAndGlyphs">CD71</text>
<line x1="318.3" y1="212.80" x2="448.0" y2="212.80" stroke="#444" stroke-width="0.9"/>
<line x1="318.3" y1="252.85" x2="448.0" y2="252.85" stroke="#999" stroke-width="0.9"/>
<line x1="318.3" y1="159.40" x2="318.3" y2="253.25" stroke="#333" stroke-width="0.8"/>
<line x1="316.7" y1="159.40" x2="318.3" y2="159.40" stroke="#333" stroke-width="0.6"/>
<text x="314.90000000000003" y="161.20" font-size="6" text-anchor="end" fill="#222">6</text>
<line x1="316.7" y1="168.30" x2="318.3" y2="168.30" stroke="#333" stroke-width="0.6"/>
<text x="314.90000000000003" y="170.10" font-size="6" text-anchor="end" fill="#222">5</text>
<line x1="316.7" y1="177.20" x2="318.3" y2="177.20" stroke="#333" stroke-width="0.6"/>
<text x="314.90000000000003" y="179.00" font-size="6" text-anchor="end" fill="#222">4</text>
<line x1="316.7" y1="186.10" x2="318.3" y2="186.10" stroke="#333" stroke-width="0.6"/>
<text x="314.90000000000003" y="187.90" font-size="6" text-anchor="end" fill="#222">3</text>
<line x1="316.7" y1="195.00" x2="318.3" y2="195.00" stroke="#333" stroke-width="0.6"/>
<text x="314.90000000000003" y="196.80" font-size="6" text-anchor="end" fill="#222">2</text>
<line x1="316.7" y1="203.90" x2="318.3" y2="203.90" stroke="#333" stroke-width="0.6"/>
<text x="314.90000000000003" y="205.70" font-size="6" text-anchor="end" fill="#222">1</text>
<line x1="316.7" y1="212.80" x2="318.3" y2="212.80" stroke="#333" stroke-width="0.6"/>
<text x="314.90000000000003" y="214.60" font-size="6" text-anchor="end" fill="#222">0</text>
<line x1="316.7" y1="221.70" x2="318.3" y2="221.70" stroke="#333" stroke-width="0.6"/>
<text x="314.90000000000003" y="223.50" font-size="6" text-anchor="end" fill="#222"><tspan font-size="4.6" dy="-0.5">-</tspan><tspan dy="0.5">1</tspan></text>
<line x1="316.7" y1="230.60" x2="318.3" y2="230.60" stroke="#333" stroke-width="0.6"/>
<text x="314.90000000000003" y="232.40" font-size="6" text-anchor="end" fill="#222"><tspan font-size="4.6" dy="-0.5">-</tspan><tspan dy="0.5">2</tspan></text>
<line x1="316.7" y1="239.50" x2="318.3" y2="239.50" stroke="#333" stroke-width="0.6"/>
<text x="314.90000000000003" y="241.30" font-size="6" text-anchor="end" fill="#222"><tspan font-size="4.6" dy="-0.5">-</tspan><tspan dy="0.5">3</tspan></text>
<line x1="316.7" y1="248.40" x2="318.3" y2="248.40" stroke="#333" stroke-width="0.6"/>
<text x="314.90000000000003" y="250.20" font-size="6" text-anchor="end" fill="#222"><tspan font-size="4.6" dy="-0.5">-</tspan><tspan dy="0.5">4</tspan></text>
<text transform="translate(300.9,240.58) rotate(-90)" font-size="8.45">Log<tspan font-size="5.24" dy="1.8">2</tspan><tspan dy="-1.8"> (protein ratio)</tspan></text>
<rect x="463.5" y="160.80" width="57" height="25.5" fill="#a0a0a0"/>
<rect x="462.6" y="159.60" width="57" height="25.2" fill="#fff" stroke="#8a8a8a" stroke-width="0.8"/>
<rect x="471.2" y="165.70" width="15" height="4.8" fill="#000"/>
<rect x="471.4" y="174.90" width="14.8" height="4.5" fill="#fff" stroke="#333" stroke-width="0.7"/>
<text x="489.4" y="170.30" font-size="6.35">HL60</text>
<text x="489.4" y="179.50" font-size="6.35">NB4</text>
</svg></div>
</body></html>
